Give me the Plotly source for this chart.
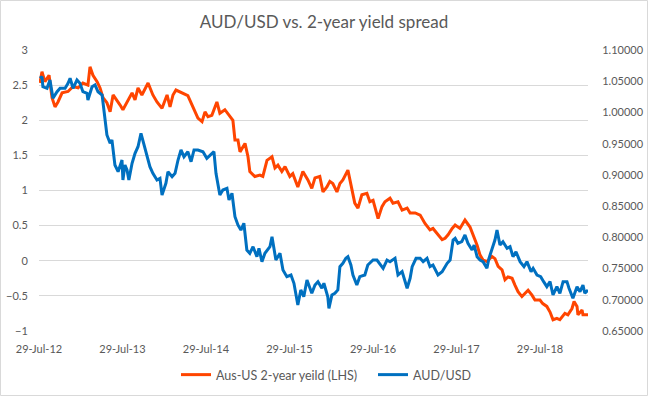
import plotly.graph_objects as go

# ---- data ----
spread_dates = [
    "2012-08-02", "2012-08-11", "2012-08-24", "2012-09-11", "2012-09-24", "2012-10-07", "2012-10-20",
    "2012-11-07", "2012-12-03", "2012-12-25", "2013-01-16", "2013-02-06", "2013-02-28", "2013-03-09",
    "2013-03-22", "2013-04-09", "2013-04-22", "2013-05-05", "2013-05-22", "2013-06-05", "2013-06-18",
    "2013-07-05", "2013-07-18", "2013-07-31", "2013-08-18", "2013-09-09", "2013-09-22", "2013-10-05",
    "2013-10-22", "2013-11-18", "2013-12-09", "2013-12-27", "2014-01-18", "2014-02-09", "2014-02-22",
    "2014-03-07", "2014-03-20", "2014-04-07", "2014-04-28", "2014-05-11", "2014-06-02", "2014-06-24",
    "2014-07-12", "2014-07-25", "2014-08-07", "2014-08-24", "2014-09-15", "2014-09-28", "2014-10-20",
    "2014-11-11", "2014-11-24", "2014-12-03", "2014-12-16", "2014-12-25", "2015-01-16", "2015-01-29",
    "2015-02-06", "2015-02-28", "2015-03-22", "2015-04-04", "2015-04-22", "2015-05-14", "2015-05-27",
    "2015-06-09", "2015-06-26", "2015-07-10", "2015-07-31", "2015-08-13", "2015-09-04", "2015-09-26",
    "2015-10-18", "2015-11-04", "2015-11-18", "2015-12-09", "2015-12-23", "2016-01-09", "2016-01-22",
    "2016-02-04", "2016-02-22", "2016-03-06", "2016-03-19", "2016-04-10", "2016-04-27", "2016-05-10",
    "2016-05-24", "2016-06-10", "2016-07-02", "2016-07-15", "2016-07-29", "2016-08-20", "2016-09-06",
    "2016-09-19", "2016-10-11", "2016-10-24", "2016-11-15", "2016-12-03", "2016-12-25", "2017-01-07",
    "2017-01-29", "2017-02-20", "2017-03-13", "2017-04-04", "2017-04-17", "2017-05-09", "2017-05-27",
    "2017-06-09", "2017-06-22", "2017-07-10", "2017-07-23", "2017-08-13", "2017-09-04", "2017-09-26",
    "2017-10-09", "2017-10-27", "2017-11-09", "2017-11-22", "2017-12-09", "2017-12-31", "2018-01-13",
    "2018-01-27", "2018-02-13", "2018-02-26", "2018-03-11", "2018-03-29", "2018-04-11", "2018-04-24",
    "2018-05-11", "2018-05-25", "2018-06-07", "2018-06-24", "2018-07-07", "2018-07-29", "2018-08-10",
    "2018-08-28", "2018-09-11", "2018-09-24", "2018-10-11", "2018-10-24", "2018-11-15", "2018-11-28",
    "2018-12-16", "2018-12-25", "2019-01-07", "2019-01-11", "2019-01-29", "2019-02-02", "2019-02-24",
]
spread_values = [
    2.53, 2.69, 2.55, 2.64, 2.32, 2.19, 2.26,
    2.39, 2.41, 2.48, 2.46, 2.53, 2.50, 2.76,
    2.64, 2.55, 2.46, 2.32, 2.25, 2.12, 2.36,
    2.29, 2.22, 2.15, 2.26, 2.39, 2.29, 2.46,
    2.36, 2.53, 2.36, 2.26, 2.17, 2.36, 2.19,
    2.36, 2.43, 2.40, 2.36, 2.35, 2.19, 2.03,
    1.98, 2.12, 2.05, 2.07, 2.26, 2.10, 2.15,
    2.05, 2.00, 1.72, 1.72, 1.55, 1.67, 1.48,
    1.27, 1.20, 1.22, 1.20, 1.43, 1.48, 1.32,
    1.36, 1.27, 1.34, 1.20, 1.24, 1.05, 1.27,
    1.15, 1.03, 1.18, 1.20, 0.98, 1.05, 1.13,
    1.10, 0.98, 1.10, 1.15, 1.29, 1.05, 0.82,
    0.75, 0.94, 0.96, 0.84, 0.86, 0.60, 0.77,
    0.84, 0.89, 0.82, 0.84, 0.72, 0.75, 0.68,
    0.68, 0.65, 0.53, 0.44, 0.46, 0.37, 0.30,
    0.32, 0.37, 0.46, 0.51, 0.46, 0.58, 0.48,
    0.37, 0.22, 0.08, 0.01, -0.01, 0.06, 0.03,
    -0.08, -0.13, -0.27, -0.23, -0.25, -0.35, -0.44,
    -0.51, -0.46, -0.42, -0.49, -0.56, -0.56, -0.61,
    -0.65, -0.73, -0.84, -0.82, -0.84, -0.75, -0.77,
    -0.68, -0.58, -0.65, -0.77, -0.70, -0.77, -0.77,
]

aud_dates = [
    "2012-08-02", "2012-08-11", "2012-08-15", "2012-09-02", "2012-09-15", "2012-09-28", "2012-10-16",
    "2012-10-29", "2012-11-20", "2012-12-03", "2012-12-12", "2012-12-25", "2013-01-11", "2013-01-24",
    "2013-02-06", "2013-02-24", "2013-02-28", "2013-03-18", "2013-03-31", "2013-04-13", "2013-05-01",
    "2013-05-14", "2013-05-22", "2013-06-05", "2013-06-13", "2013-06-26", "2013-07-10", "2013-07-27",
    "2013-07-31", "2013-08-09", "2013-08-18", "2013-08-26", "2013-09-09", "2013-09-22", "2013-10-05",
    "2013-10-18", "2013-10-27", "2013-11-13", "2013-11-26", "2013-12-09", "2013-12-27", "2014-01-09",
    "2014-01-18", "2014-02-04", "2014-02-13", "2014-03-03", "2014-03-16", "2014-03-29", "2014-04-11",
    "2014-04-24", "2014-05-11", "2014-05-25", "2014-06-07", "2014-06-24", "2014-07-16", "2014-08-02",
    "2014-08-20", "2014-09-02", "2014-09-11", "2014-09-19", "2014-09-28", "2014-10-11", "2014-10-29",
    "2014-11-07", "2014-11-20", "2014-12-03", "2014-12-16", "2014-12-29", "2015-01-11", "2015-01-24",
    "2015-02-06", "2015-02-20", "2015-03-09", "2015-03-18", "2015-03-31", "2015-04-13", "2015-05-05",
    "2015-05-14", "2015-05-31", "2015-06-18", "2015-07-01", "2015-07-18", "2015-08-05", "2015-08-18",
    "2015-09-04", "2015-09-17", "2015-09-30", "2015-10-14", "2015-11-04", "2015-11-18", "2015-12-01",
    "2015-12-18", "2015-12-27", "2016-01-13", "2016-01-18", "2016-01-31", "2016-02-13", "2016-02-26",
    "2016-03-06", "2016-03-19", "2016-04-01", "2016-04-10", "2016-04-23", "2016-05-02", "2016-05-19",
    "2016-06-01", "2016-06-23", "2016-07-06", "2016-07-29", "2016-08-15", "2016-08-29", "2016-09-11",
    "2016-09-28", "2016-10-11", "2016-11-02", "2016-11-15", "2016-12-03", "2016-12-25", "2017-01-07",
    "2017-01-16", "2017-02-02", "2017-02-20", "2017-03-05", "2017-03-22", "2017-04-04", "2017-04-17",
    "2017-05-09", "2017-05-27", "2017-06-18", "2017-07-01", "2017-07-14", "2017-07-23", "2017-08-04",
    "2017-08-21", "2017-09-04", "2017-09-17", "2017-10-05", "2017-10-14", "2017-10-27", "2017-11-09",
    "2017-11-22", "2017-12-09", "2017-12-18", "2017-12-31", "2018-01-13", "2018-01-22", "2018-02-04",
    "2018-02-17", "2018-03-07", "2018-03-20", "2018-04-02", "2018-04-15", "2018-05-03", "2018-05-20",
    "2018-06-02", "2018-06-20", "2018-06-29", "2018-07-16", "2018-08-01", "2018-08-14", "2018-08-28",
    "2018-09-11", "2018-09-24", "2018-10-11", "2018-10-24", "2018-11-07", "2018-11-24", "2018-12-03",
    "2018-12-20", "2019-01-07", "2019-01-20", "2019-02-02", "2019-02-10", "2019-02-24",
]
aud_values = [
    1.0547, 1.0572, 1.0412, 1.0387, 1.0520, 1.0227, 1.0332,
    1.0387, 1.0387, 1.0467, 1.0547, 1.0387, 1.0520, 1.0467,
    1.0332, 1.0307, 1.0199, 1.0412, 1.0440, 1.0332, 1.0279,
    0.9852, 0.9639, 0.9506, 0.9559, 0.9158, 0.9051, 0.9238,
    0.8918, 0.9158, 0.9078, 0.8918, 0.9186, 0.9346, 0.9451,
    0.9666, 0.9532, 0.9319, 0.9131, 0.9025, 0.8918, 0.8945,
    0.8678, 0.8865, 0.9051, 0.8971, 0.9025, 0.9238, 0.9399,
    0.9291, 0.9371, 0.9211, 0.9399, 0.9399, 0.9371, 0.9266,
    0.9319, 0.9371, 0.9025, 0.8865, 0.8678, 0.8758, 0.8785,
    0.8598, 0.8705, 0.8330, 0.8198, 0.8117, 0.8225, 0.7797,
    0.7744, 0.7850, 0.7690, 0.7824, 0.7610, 0.7744, 0.7850,
    0.8010, 0.7637, 0.7744, 0.7477, 0.7370, 0.7397, 0.7264,
    0.6916, 0.7157, 0.7049, 0.7317, 0.7104, 0.7237, 0.7290,
    0.7184, 0.7264, 0.7049, 0.6863, 0.7077, 0.7104, 0.7157,
    0.7530, 0.7584, 0.7664, 0.7690, 0.7557, 0.7397, 0.7237,
    0.7370, 0.7397, 0.7557, 0.7637, 0.7637, 0.7557, 0.7504,
    0.7637, 0.7610, 0.7664, 0.7397, 0.7450, 0.7184, 0.7344,
    0.7530, 0.7664, 0.7664, 0.7610, 0.7664, 0.7530, 0.7557,
    0.7397, 0.7450, 0.7584, 0.7637, 0.7957, 0.7984, 0.7904,
    0.7930, 0.8037, 0.7904, 0.7797, 0.7877, 0.7690, 0.7637,
    0.7610, 0.7504, 0.7664, 0.7797, 0.7957, 0.8117, 0.7877,
    0.7930, 0.7824, 0.7850, 0.7690, 0.7770, 0.7610, 0.7530,
    0.7610, 0.7450, 0.7504, 0.7397, 0.7370, 0.7290, 0.7210,
    0.7290, 0.7077, 0.7210, 0.7104, 0.7290, 0.7290, 0.7184,
    0.7024, 0.7210, 0.7129, 0.7237, 0.7104, 0.7157,
]

x_ticks = ["2012-07-29", "2013-07-29", "2014-07-29", "2015-07-29",
           "2016-07-29", "2017-07-29", "2018-07-29"]
x_range = ["2012-07-29", "2019-02-24"]
left_ticks = [-1, -0.5, 0, 0.5, 1, 1.5, 2, 2.5, 3]
right_ticks = [0.65, 0.70, 0.75, 0.80, 0.85, 0.90, 0.95, 1.00, 1.05, 1.10]

RED = "#FF4500"
BLUE = "#0070C0"
GRID = "#D9D9D9"
TXT = "#595959"
FONT = "Lato, 'Open Sans', sans-serif"

fig = go.Figure()
fig.add_trace(go.Scatter(x=spread_dates, y=spread_values, mode="lines",
                         name="Aus-US 2-year yeild (LHS)",
                         line=dict(color=RED, width=3), yaxis="y", xaxis="x"))
fig.add_trace(go.Scatter(x=aud_dates, y=aud_values, mode="lines",
                         name="AUD/USD",
                         line=dict(color=BLUE, width=3), yaxis="y2", xaxis="x"))

W, H = 648, 396
ml, mr, mt, mb = 39, 60, 50, 65
pw, ph = W - ml - mr, H - mt - mb

fig.update_layout(
    template="none",
    width=W, height=H,
    margin=dict(l=ml, r=mr, t=mt, b=mb, pad=0, autoexpand=False),
    paper_bgcolor="white", plot_bgcolor="white",
    font=dict(family=FONT, color=TXT, size=11),
    title=dict(text="AUD/USD vs. 2-year yield spread", x=0.5, xanchor="center",
               y=1 - 22 / H, yanchor="middle",
               font=dict(size=17, color=TXT, family=FONT)),
    showlegend=True,
    legend=dict(orientation="h", x=(176 - ml) / pw, xanchor="left",
                y=-(375 - (H - mb)) / ph, yanchor="middle", entrywidth=152,
                font=dict(size=12.5, color=TXT), bgcolor="rgba(0,0,0,0)"),
    xaxis=dict(type="date", range=x_range, tickvals=x_ticks, tickformat="%d-%b-%y",
               showgrid=False, zeroline=False, showline=False, automargin=False,
               ticks="outside", ticklen=8, tickcolor="rgba(0,0,0,0)",
               tickfont=dict(size=11, color=TXT)),
    xaxis2=dict(type="date", range=x_range, tickvals=x_ticks, overlaying="x",
                anchor="free", position=0.25, side="bottom", automargin=False,
                showgrid=False, zeroline=False, showline=True, linecolor=GRID, linewidth=1,
                ticks="outside", ticklen=5, tickcolor=GRID, showticklabels=False),
    yaxis=dict(range=[-1, 3], tickvals=left_ticks, showgrid=True, gridcolor=GRID, gridwidth=1,
               zeroline=False, showline=False, ticks="outside", ticklen=8, automargin=False,
               tickcolor="rgba(0,0,0,0)", tickfont=dict(size=11, color=TXT)),
    yaxis2=dict(range=[0.65, 1.10], tickvals=right_ticks, tickformat=".5f",
                overlaying="y", side="right", anchor="x", showgrid=False, zeroline=False,
                showline=False, ticks="outside", ticklen=11, tickcolor="rgba(0,0,0,0)",
                automargin=False, tickfont=dict(size=11, color=TXT)),
)

# chart-area border
fig.add_shape(type="rect", xref="paper", yref="paper",
              x0=-(ml - 0.5) / pw, x1=(W - ml - 0.5) / pw,
              y0=-(mb - 0.5) / ph, y1=1 + (mt - 0.5) / ph,
              line=dict(color=GRID, width=1), fillcolor="rgba(0,0,0,0)", layer="below")

fig.write_html("out.html", config={"displayModeBar": False},
               post_script="document.body.style.margin='0';")
